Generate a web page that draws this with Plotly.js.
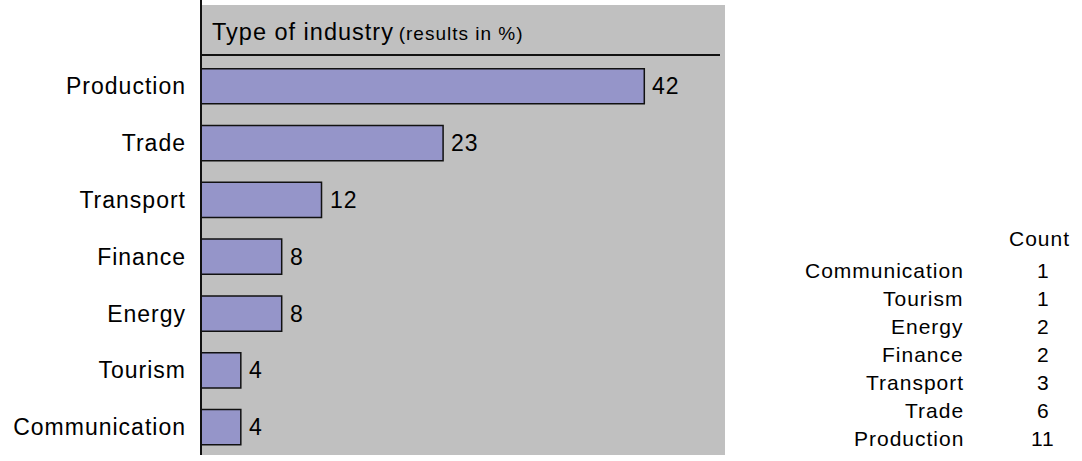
<!DOCTYPE html>
<html>
<head>
<meta charset="utf-8">
<script src="https://cdn.plot.ly/plotly-3.0.1.min.js"></script>
<style>
html,body{margin:0;padding:0;background:#fff;}
#chart{width:1082px;height:461px;}
svg text{letter-spacing:1px;}
</style>
</head>
<body>
<div id="chart"></div>
<script>
// Data (bottom to top on the chart)
var categories = ["Communication", "Tourism", "Energy", "Finance", "Transport", "Trade", "Production"];
var percentValues = [3.8, 3.8, 7.7, 7.7, 11.5, 23.1, 42.3];
var percentLabels = ["4", "4", "8", "8", "12", "23", "42"];

// Side table
var tableHeader = "Count";
var tableCategories = ["Communication", "Tourism", "Energy", "Finance", "Transport", "Trade", "Production"];
var tableCounts = [1, 1, 2, 2, 3, 6, 11];

var FONT = '"Liberation Sans", Arial, sans-serif';

var W = 1082, H = 461;
var mL = 201, mR = 357, mT = 5, mB = 6;
var plotW = W - mL - mR, plotH = H - mT - mB;
function px(x) { return (x - mL) / plotW; }
function py(y) { return (H - mB - y) / plotH; }

var trace = {
  type: 'bar',
  orientation: 'h',
  y: categories,
  x: percentValues,
  width: 0.62,
  marker: { color: '#9595c9', line: { color: '#111', width: 1.5 } },
  hoverinfo: 'skip'
};

var annotations = [];
// bar value labels
for (var i = 0; i < categories.length; i++) {
  annotations.push({
    x: percentValues[i], y: categories[i], xref: 'x', yref: 'y',
    text: percentLabels[i], showarrow: false, xanchor: 'left', yanchor: 'middle',
    xshift: 6, font: { family: FONT, size: 23, color: '#000' }
  });
}
// panel title
annotations.push({
  xref: 'paper', yref: 'paper', x: 0, y: py(32), xanchor: 'left', yanchor: 'middle',
  xshift: 9, showarrow: false,
  text: 'Type of industry<span style="font-size:19px">\u2009(results in %)</span>',
  font: { family: FONT, size: 23.5, color: '#000' }
});
// table header
annotations.push({
  xref: 'paper', yref: 'paper', x: px(1039), y: py(238), xanchor: 'center', yanchor: 'middle',
  showarrow: false, text: tableHeader, font: { family: FONT, size: 21, color: '#000' }
});
for (var j = 0; j < tableCategories.length; j++) {
  var yy = py(270 + j * 28);
  annotations.push({
    xref: 'paper', yref: 'paper', x: px(966), y: yy, xanchor: 'right', yanchor: 'middle',
    showarrow: false, text: tableCategories[j], font: { family: FONT, size: 21, color: '#000' }
  });
  annotations.push({
    xref: 'paper', yref: 'paper', x: px(1043), y: yy, xanchor: 'center', yanchor: 'middle',
    showarrow: false, text: String(tableCounts[j]), font: { family: FONT, size: 21, color: '#000' }
  });
}

var shapes = [
  // header separator line
  { type: 'line', xref: 'paper', yref: 'paper', x0: 0, x1: px(720), y0: py(55), y1: py(55),
    line: { color: '#111', width: 2 }, layer: 'above' },
  // vertical axis line (extends to top of image)
  { type: 'line', xref: 'paper', yref: 'paper', x0: 0, x1: 0, y0: 0, y1: py(0),
    line: { color: '#111', width: 2 }, layer: 'above' }
];

var layout = {
  width: W, height: H,
  margin: { l: mL, r: mR, t: mT, b: mB, pad: 0 },
  paper_bgcolor: '#ffffff',
  plot_bgcolor: '#c0c0c0',
  showlegend: false,
  bargap: 0.38,
  xaxis: { range: [0, 50], showgrid: false, zeroline: false, showticklabels: false,
           showline: false, ticks: '', fixedrange: true },
  yaxis: { type: 'category', range: [-0.49, 7.43], showgrid: false, zeroline: false,
           showline: false, ticks: '', ticklabelstandoff: 14,
           tickfont: { family: FONT, size: 23, color: '#000' }, fixedrange: true },
  annotations: annotations,
  shapes: shapes,
  font: { family: FONT }
};

Plotly.newPlot('chart', [trace], layout, { displayModeBar: false, staticPlot: true });
</script>
</body>
</html>
